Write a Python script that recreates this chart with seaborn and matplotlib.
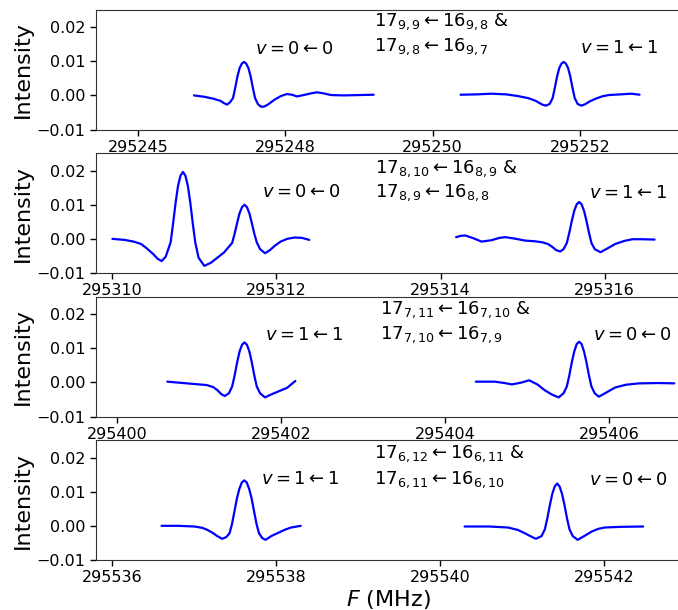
import matplotlib
matplotlib.use("Agg")
import matplotlib.pyplot as plt
import seaborn as sns

# ---- spectra (frequency in MHz, intensity) ----
# panel 1
p1a_freq = [295246.76, 295246.90, 295247.03, 295247.12, 295247.17, 295247.21, 295247.25, 295247.29,
            295247.32, 295247.35, 295247.38, 295247.41, 295247.44, 295247.47, 295247.50, 295247.53,
            295247.56, 295247.59, 295247.63, 295247.67, 295247.71, 295247.77, 295247.85, 295247.94,
            295248.02, 295248.09, 295248.16, 295248.25, 295248.35, 295248.43, 295248.52, 295248.62,
            295248.80, 295249.00, 295249.20]
p1a_int = [0.0000, -0.0004, -0.0010, -0.0016, -0.0023, -0.0027, -0.0020, -0.0008,
           0.0022, 0.0055, 0.0080, 0.0093, 0.0098, 0.0093, 0.0080, 0.0055,
           0.0022, -0.0008, -0.0026, -0.0033, -0.0033, -0.0026, -0.0013, -0.0002,
           0.0004, 0.0002, -0.0003, 0.0001, 0.0006, 0.0009, 0.0006, 0.0001,
           0.0000, 0.0001, 0.0002]
p1b_freq = [295250.38, 295250.60, 295250.80, 295251.00, 295251.16, 295251.30, 295251.40, 295251.49,
            295251.54, 295251.59, 295251.63, 295251.66, 295251.69, 295251.72, 295251.75, 295251.78,
            295251.81, 295251.84, 295251.87, 295251.90, 295251.93, 295251.97, 295252.02, 295252.07,
            295252.13, 295252.21, 295252.30, 295252.39, 295252.55, 295252.70, 295252.81]
p1b_int = [0.0002, 0.0003, 0.0005, 0.0003, -0.0002, -0.0008, -0.0016, -0.0027,
           -0.0030, -0.0025, -0.0008, 0.0022, 0.0055, 0.0080, 0.0093, 0.0098,
           0.0093, 0.0080, 0.0055, 0.0022, -0.0008, -0.0025, -0.0030, -0.0026,
           -0.0018, -0.0010, -0.0003, 0.0001, 0.0003, 0.0005, 0.0002]

# panel 2
p2a_freq = [295310.00, 295310.15, 295310.26, 295310.35, 295310.42, 295310.50, 295310.55, 295310.60,
            295310.65, 295310.71, 295310.74, 295310.77, 295310.80, 295310.83, 295310.86, 295310.89,
            295310.92, 295310.95, 295310.98, 295311.01, 295311.05, 295311.12, 295311.20, 295311.28,
            295311.36, 295311.42, 295311.46, 295311.49, 295311.52, 295311.55, 295311.58, 295311.61,
            295311.64, 295311.67, 295311.70, 295311.73, 295311.76, 295311.80, 295311.86, 295311.92,
            295311.98, 295312.05, 295312.13, 295312.22, 295312.31, 295312.40]
p2a_int = [0.0000, -0.0003, -0.0008, -0.0015, -0.0028, -0.0045, -0.0058, -0.0065,
           -0.0052, -0.0010, 0.0045, 0.0105, 0.0155, 0.0185, 0.0196, 0.0185,
           0.0155, 0.0105, 0.0045, -0.0010, -0.0055, -0.0079, -0.0070, -0.0055,
           -0.0040, -0.0023, -0.0012, 0.0015, 0.0046, 0.0075, 0.0093, 0.0100,
           0.0093, 0.0075, 0.0046, 0.0015, -0.0010, -0.0030, -0.0042, -0.0033,
           -0.0020, -0.0008, 0.0000, 0.0004, 0.0003, -0.0003]
p2b_freq = [295314.19, 295314.25, 295314.30, 295314.40, 295314.50, 295314.62, 295314.72, 295314.79,
            295314.90, 295315.03, 295315.15, 295315.24, 295315.31, 295315.36, 295315.41, 295315.46,
            295315.50, 295315.54, 295315.57, 295315.60, 295315.63, 295315.66, 295315.69, 295315.72,
            295315.75, 295315.78, 295315.81, 295315.84, 295315.88, 295315.95, 295316.02, 295316.13,
            295316.24, 295316.34, 295316.45, 295316.61]
p2b_int = [0.0005, 0.0009, 0.0010, 0.0002, -0.0008, -0.0004, 0.0003, 0.0005,
           0.0001, -0.0005, -0.0007, -0.0010, -0.0015, -0.0023, -0.0033, -0.0037,
           -0.0030, -0.0012, 0.0018, 0.0052, 0.0082, 0.0101, 0.0108, 0.0101,
           0.0082, 0.0052, 0.0018, -0.0012, -0.0030, -0.0039, -0.0030, -0.0015,
           -0.0006, -0.0001, -0.0001, -0.0002]

# panel 3
p3a_freq = [295400.61, 295400.85, 295401.09, 295401.17, 295401.22, 295401.27, 295401.31, 295401.36,
            295401.40, 295401.43, 295401.46, 295401.49, 295401.52, 295401.55, 295401.58, 295401.61,
            295401.64, 295401.67, 295401.70, 295401.74, 295401.80, 295401.88, 295401.95, 295402.07,
            295402.17]
p3a_int = [0.0002, -0.0003, -0.0008, -0.0014, -0.0023, -0.0035, -0.0040, -0.0032,
           -0.0012, 0.0020, 0.0058, 0.0090, 0.0110, 0.0117, 0.0110, 0.0090,
           0.0058, 0.0020, -0.0012, -0.0032, -0.0044, -0.0035, -0.0028, -0.0016,
           0.0004]
p3b_freq = [295404.37, 295404.60, 295404.72, 295404.81, 295404.92, 295405.02, 295405.12, 295405.21,
            295405.30, 295405.38, 295405.44, 295405.48, 295405.51, 295405.54, 295405.57, 295405.60,
            295405.63, 295405.66, 295405.69, 295405.72, 295405.75, 295405.78, 295405.82, 295405.87,
            295405.96, 295406.07, 295406.20, 295406.36, 295406.60, 295406.79]
p3b_int = [0.0002, 0.0002, -0.0002, -0.0006, -0.0001, 0.0006, -0.0006, -0.0023,
           -0.0036, -0.0044, -0.0032, -0.0012, 0.0020, 0.0058, 0.0090, 0.0112,
           0.0119, 0.0112, 0.0090, 0.0058, 0.0020, -0.0012, -0.0032, -0.0042,
           -0.0030, -0.0015, -0.0007, -0.0003, -0.0002, -0.0003]

# panel 4
p4a_freq = [295536.60, 295536.80, 295537.00, 295537.10, 295537.16, 295537.22, 295537.28, 295537.34,
            295537.39, 295537.43, 295537.46, 295537.49, 295537.52, 295537.55, 295537.58, 295537.61,
            295537.64, 295537.67, 295537.70, 295537.73, 295537.76, 295537.79, 295537.83, 295537.87,
            295537.94, 295538.02, 295538.10, 295538.18, 295538.30]
p4a_int = [0.0000, 0.0000, -0.0002, -0.0006, -0.0012, -0.0020, -0.0030, -0.0038,
           -0.0033, -0.0022, 0.0005, 0.0042, 0.0080, 0.0108, 0.0127, 0.0133,
           0.0127, 0.0108, 0.0080, 0.0042, 0.0005, -0.0022, -0.0036, -0.0041,
           -0.0030, -0.0021, -0.0012, -0.0005, 0.0000]
p4b_freq = [295540.30, 295540.60, 295540.83, 295540.95, 295541.03, 295541.10, 295541.17, 295541.24,
            295541.28, 295541.31, 295541.34, 295541.37, 295541.40, 295541.43, 295541.46, 295541.49,
            295541.52, 295541.55, 295541.58, 295541.62, 295541.68, 295541.76, 295541.85, 295541.93,
            295542.01, 295542.20, 295542.48]
p4b_int = [-0.0002, -0.0002, -0.0005, -0.0012, -0.0021, -0.0030, -0.0038, -0.0030,
           -0.0010, 0.0022, 0.0060, 0.0093, 0.0115, 0.0124, 0.0115, 0.0093,
           0.0060, 0.0022, -0.0010, -0.0030, -0.0041, -0.0030, -0.0017, -0.0009,
           -0.0005, -0.0003, -0.0002]

# ---- axes settings and labels ----
xlims = [(295245.43, 295253.36), (295309.80, 295316.92), (295399.74, 295406.86), (295535.80, 295542.93)]
xticks = [[295246, 295248, 295250, 295252], [295310, 295312, 295314, 295316],
          [295400, 295402, 295404, 295406], [295536, 295538, 295540, 295542]]
xticklabels = [["295245", "295248", "295250", "295252"], ["295310", "295312", "295314", "295316"],
               ["295400", "295402", "295404", "295406"], ["295536", "295538", "295540", "295542"]]
yticks = [-0.01, 0.0, 0.01, 0.02]

left_labels = [r"$v=0\leftarrow0$", r"$v=0\leftarrow0$", r"$v=1\leftarrow1$", r"$v=1\leftarrow1$"]
right_labels = [r"$v=1\leftarrow1$", r"$v=1\leftarrow1$", r"$v=0\leftarrow0$", r"$v=0\leftarrow0$"]
trans_line1 = [r"$17_{9,9}\leftarrow16_{9,8}$ &", r"$17_{8,10}\leftarrow16_{8,9}$ &",
               r"$17_{7,11}\leftarrow16_{7,10}$ &", r"$17_{6,12}\leftarrow16_{6,11}$ &"]
trans_line2 = [r"$17_{9,8}\leftarrow16_{9,7}$", r"$17_{8,9}\leftarrow16_{8,8}$",
               r"$17_{7,10}\leftarrow16_{7,9}$", r"$17_{6,11}\leftarrow16_{6,10}$"]

spectra = [[(p1a_freq, p1a_int), (p1b_freq, p1b_int)],
           [(p2a_freq, p2a_int), (p2b_freq, p2b_int)],
           [(p3a_freq, p3a_int), (p3b_freq, p3b_int)],
           [(p4a_freq, p4a_int), (p4b_freq, p4b_int)]]

sns.set_style("ticks")
plt.rcParams["font.family"] = ["DejaVu Sans"]
plt.rcParams["mathtext.fontset"] = "dejavusans"
plt.rcParams["text.color"] = "black"
plt.rcParams["axes.labelcolor"] = "black"

fig, axes = plt.subplots(4, 1, figsize=(6.78, 6.10), dpi=100)
fig.subplots_adjust(left=96 / 678, right=1.003, top=0.9836, bottom=0.082, hspace=0.2)

# text anchor positions (axes fraction) per panel
left_pos = [(0.273, 0.672), (0.285, 0.678), (0.290, 0.683), (0.282, 0.680)]
right_pos = [(0.828, 0.680), (0.844, 0.669), (0.851, 0.683), (0.844, 0.672)]
trans_pos = [(0.476, 0.90, 0.69), (0.478, 0.876, 0.669), (0.486, 0.892, 0.683), (0.476, 0.89, 0.672)]

for k, ax in enumerate(axes):
    for freq, inten in spectra[k]:
        sns.lineplot(x=freq, y=inten, ax=ax, color="blue", lw=1.6, sort=False, estimator=None)
    ax.set_xlim(*xlims[k])
    ax.set_ylim(-0.01, 0.025)
    ax.set_xticks(xticks[k])
    ax.set_xticklabels(xticklabels[k])
    ax.set_yticks(yticks)
    ax.set_yticklabels(["\u22120.01", "0.00", "0.01", "0.02"])
    ax.tick_params(labelsize=11.5, length=4, width=1, colors="black")
    ax.set_ylabel("Intensity", fontsize=16)
    ax.yaxis.set_label_coords(-0.108, 0.5)
    for s in ax.spines.values():
        s.set_color("#333333")
    ax.text(*left_pos[k], left_labels[k], transform=ax.transAxes, fontsize=13, va="center")
    ax.text(*right_pos[k], right_labels[k], transform=ax.transAxes, fontsize=13, va="center")
    tx, ty1, ty2 = trans_pos[k]
    ax.text(tx, ty1, trans_line1[k], transform=ax.transAxes, fontsize=13, va="center")
    ax.text(tx, ty2, trans_line2[k], transform=ax.transAxes, fontsize=13, va="center")

axes[-1].set_xlabel(r"$F$ (MHz)", fontsize=16, labelpad=2)

fig.savefig("out.png", dpi=100)
